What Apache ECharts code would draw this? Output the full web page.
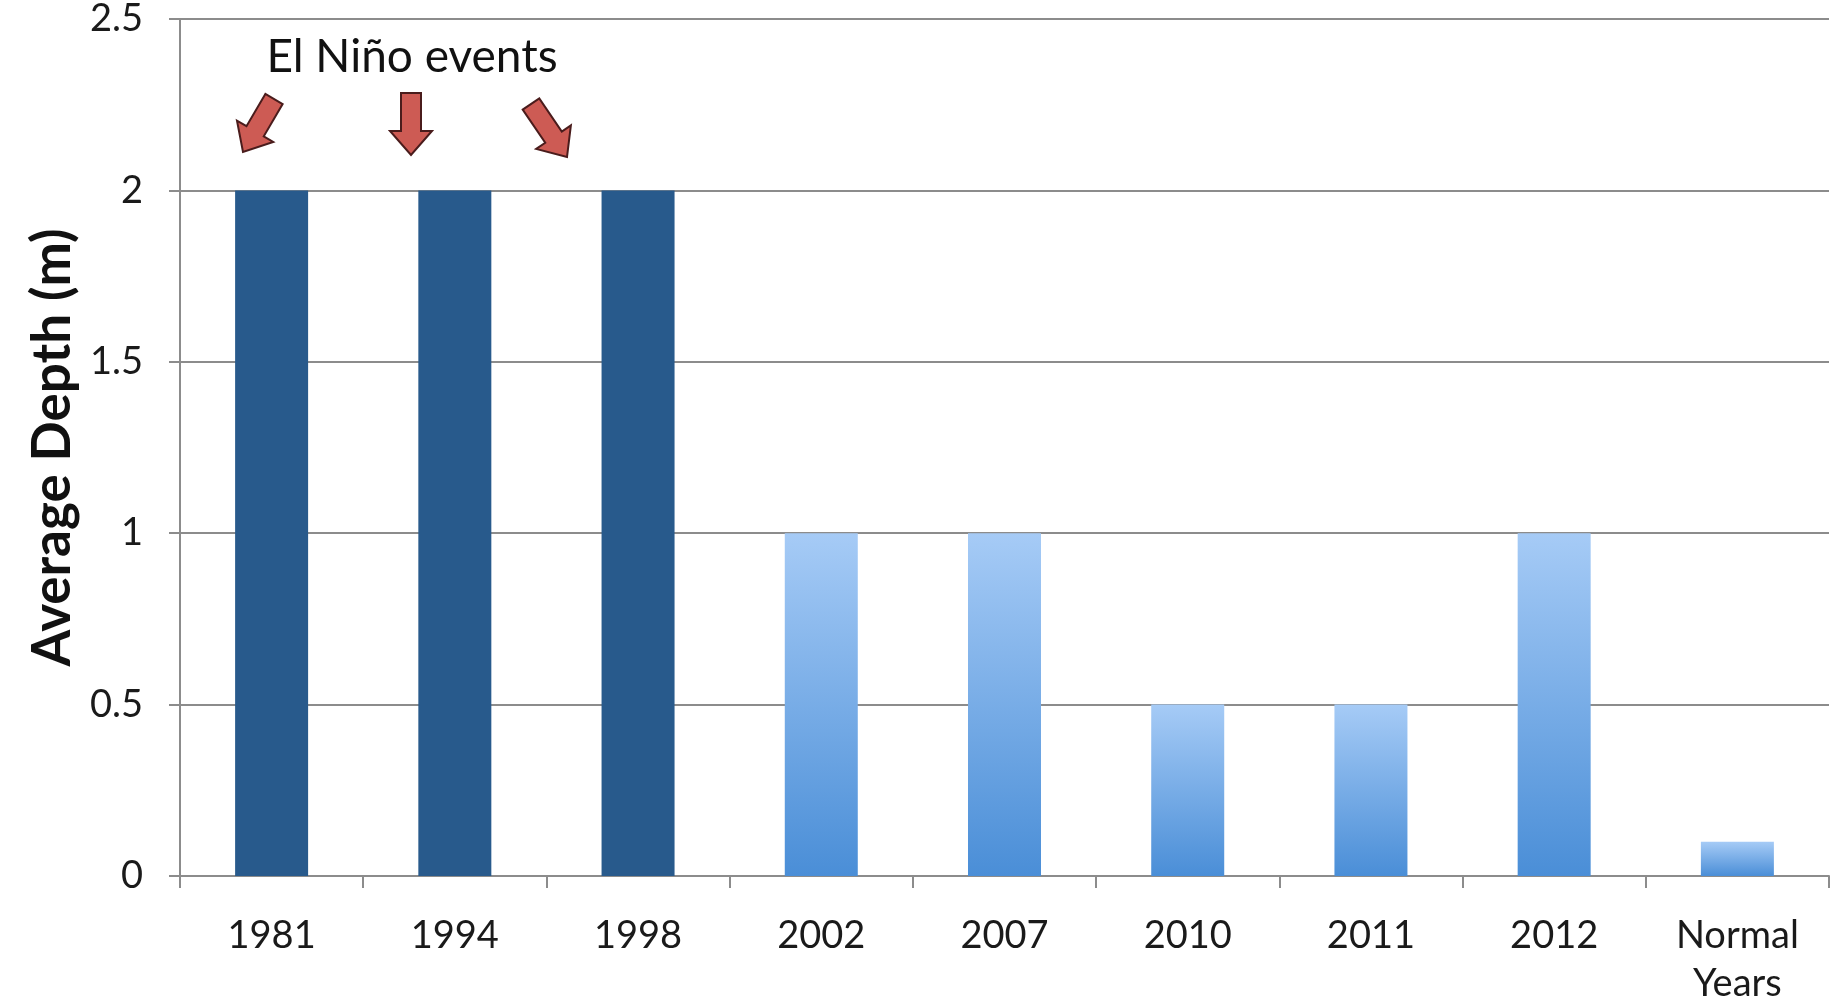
<!DOCTYPE html>
<html>
<head>
<meta charset="utf-8">
<style>html,body{margin:0;padding:0;background:#fff;}#c{width:1841px;height:998px;}</style>
<script src="https://cdn.jsdelivr.net/npm/echarts@6/dist/echarts.min.js"></script>
</head>
<body>
<div id="c"></div>
<script>
const categories = ['1981', '1994', '1998', '2002', '2007', '2010', '2011', '2012', 'Normal\nYears'];
const depths = [2, 2, 2, 1, 1, 0.5, 0.5, 1, 0.1];
const elNino = [true, true, true, false, false, false, false, false, false];
const yTicks = { min: 0, max: 2.5, interval: 0.5 };
const annotationText = 'El Niño events';

const FONT = 'Lato, "Open Sans", sans-serif';
const darkColor = '#285a8c';
const lightGradient = {
  type: 'linear', x: 0, y: 0, x2: 0, y2: 1,
  colorStops: [{ offset: 0, color: '#a6cbf6' }, { offset: 1, color: '#4a8ed7' }]
};

function arrow(tail, tip, shaftW, headW, headL) {
  const dx = tip[0] - tail[0], dy = tip[1] - tail[1];
  const len = Math.hypot(dx, dy);
  const ux = dx / len, uy = dy / len, px = -uy, py = ux;
  const bx = tip[0] - ux * headL, by = tip[1] - uy * headL;
  const s = shaftW / 2, h = headW / 2;
  return [
    [tail[0] + px * s, tail[1] + py * s],
    [bx + px * s, by + py * s],
    [bx + px * h, by + py * h],
    [tip[0], tip[1]],
    [bx - px * h, by - py * h],
    [bx - px * s, by - py * s],
    [tail[0] - px * s, tail[1] - py * s]
  ];
}
const arrowStyle = { fill: '#cd5b54', stroke: '#4a1c1c', lineWidth: 2 };

const chart = echarts.init(document.getElementById('c'));
chart.setOption({
  backgroundColor: '#fff',
  animation: false,
  grid: { left: 180, right: 12, top: 19, bottom: 122, containLabel: false, outerBoundsMode: 'none' },
  xAxis: {
    type: 'category',
    data: categories,
    axisLine: { lineStyle: { color: '#8c8c8c', width: 2 } },
    axisTick: { show: true, length: 12, lineStyle: { color: '#8c8c8c', width: 2 } },
    axisLabel: { fontFamily: FONT, fontSize: 38, color: '#1a1a1a', margin: 36, lineHeight: 48, interval: 0 }
  },
  yAxis: {
    type: 'value',
    min: yTicks.min, max: yTicks.max, interval: yTicks.interval,
    name: 'Average Depth (m)',
    nameLocation: 'middle',
    nameGap: 100,
    nameTextStyle: { fontFamily: FONT, fontSize: 53, fontWeight: 'bold', color: '#111' },
    axisLine: { show: true, lineStyle: { color: '#8c8c8c', width: 2 } },
    axisTick: { show: true, length: 11, lineStyle: { color: '#8c8c8c', width: 2 } },
    axisLabel: { fontFamily: FONT, fontSize: 38, color: '#1a1a1a', margin: 37 },
    splitLine: { lineStyle: { color: '#8c8c8c', width: 2 } }
  },
  series: [{
    type: 'bar',
    barWidth: 73,
    data: depths.map((v, i) => ({
      value: v,
      itemStyle: { color: elNino[i] ? darkColor : lightGradient }
    }))
  }],
  graphic: [
    { type: 'text', x: 412, y: 57, style: { text: annotationText, font: '46px ' + FONT, fill: '#111', textAlign: 'center', textVerticalAlign: 'middle' } },
    { type: 'polygon', shape: { points: arrow([274, 99], [243, 152], 20, 42, 24) }, style: arrowStyle },
    { type: 'polygon', shape: { points: arrow([411, 93], [411, 155], 20, 42, 24) }, style: arrowStyle },
    { type: 'polygon', shape: { points: arrow([531, 104], [567, 157], 20, 42, 24) }, style: arrowStyle }
  ]
});
</script>
</body>
</html>
